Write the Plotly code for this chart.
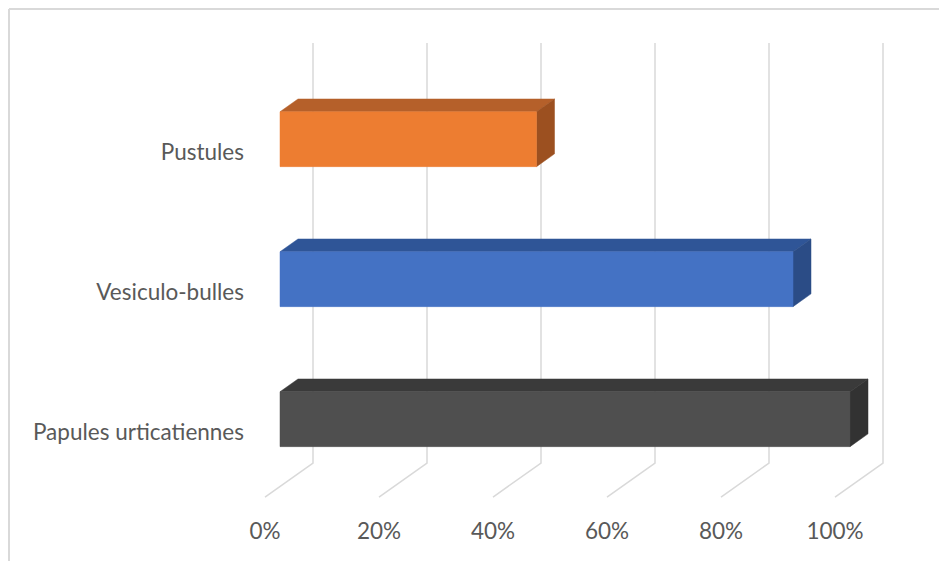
import plotly.graph_objects as go

# Data
categories = ["Papules urticatiennes", "Vesiculo-bulles", "Pustules"]
values = [100, 90, 45]  # percent
tick_values = [0, 20, 40, 60, 80, 100]
tick_labels = ["0%", "20%", "40%", "60%", "80%", "100%"]

front_colors = ["#4F4F4F", "#4472C4", "#ED7D31"]
top_colors = ["#3A3A3A", "#2F5597", "#B5602A"]
side_colors = ["#323232", "#2B4C86", "#9C5020"]

# Oblique projection of the 3D plot box: depth d in [0 (back wall), 1 (front edge of floor)]
DX = -8.42    # x shift (percent units) at full depth
DY = -0.243   # y shift (category units) at full depth
D0, D1 = 0.3125, 0.6875  # bar depth span
HALF = 0.196             # half bar thickness in category units
CAT_SHIFT = -0.02        # small downward offset of the category slots
FLOOR, CEIL = -0.5, 2.5


def proj(v, y, d):
    return v + DX * d, y + DY * d


fig = go.Figure()

# Back-wall gridlines plus floor diagonals
grid_x, grid_y = [], []
for t in tick_values:
    x0, y0 = proj(t, CEIL, 0)
    x1, y1 = proj(t, FLOOR, 0)
    x2, y2 = proj(t, FLOOR, 1)
    grid_x += [x0, x1, x2, None]
    grid_y += [y0, y1, y2, None]
fig.add_trace(go.Scatter(x=grid_x, y=grid_y, mode="lines",
                         line=dict(color="#D9D9D9", width=1.5),
                         hoverinfo="skip", showlegend=False))


def poly(pts, color):
    xs = [p[0] for p in pts] + [pts[0][0]]
    ys = [p[1] for p in pts] + [pts[0][1]]
    fig.add_trace(go.Scatter(x=xs, y=ys, mode="lines", fill="toself",
                             fillcolor=color, line=dict(color=color, width=0.5),
                             hoverinfo="skip", showlegend=False))


for i, (cat, v) in enumerate(zip(categories, values)):
    c = i + CAT_SHIFT
    lo, hi = c - HALF, c + HALF
    # top face
    poly([proj(0, hi, D1), proj(v, hi, D1), proj(v, hi, D0), proj(0, hi, D0)], top_colors[i])
    # side face
    poly([proj(v, lo, D1), proj(v, hi, D1), proj(v, hi, D0), proj(v, lo, D0)], side_colors[i])
    # front face
    poly([proj(0, lo, D1), proj(v, lo, D1), proj(v, hi, D1), proj(0, hi, D1)], front_colors[i])

W, H = 939, 561
ML, MR, MT, MB = 250, 39, 30, 46
PX_PER_PCT = 5.7
PX_PER_CAT = 140
x_left = (ML - 313) / PX_PER_PCT
x_right = (W - MR - 313) / PX_PER_PCT
y_top = (463 - MT) / PX_PER_CAT - 0.5
y_bottom = (463 - (H - MB)) / PX_PER_CAT - 0.5

font = dict(family="Lato", size=22.5, color="#595959")

fig.update_layout(
    width=W, height=H,
    margin=dict(l=ML, r=MR, t=MT, b=MB),
    paper_bgcolor="white", plot_bgcolor="white",
    font=font,
    xaxis=dict(range=[x_left, x_right], showgrid=False, zeroline=False,
               showline=False, ticks="",
               tickmode="array",
               tickvals=[t + DX for t in tick_values], ticktext=tick_labels,
               ticklabelstandoff=0),
    yaxis=dict(range=[y_bottom, y_top], showgrid=False, zeroline=False,
               showline=False, ticks="",
               tickmode="array",
               tickvals=[i + DY - 0.04 for i in range(len(categories))], ticktext=categories,
               ticklabelstandoff=5),
    shapes=[
        dict(type="line", xref="paper", yref="paper",
             x0=(9 - ML) / (W - ML - MR), x1=(W - ML) / (W - ML - MR) + 0.01,
             y0=(H - 9 - MB) / (H - MT - MB), y1=(H - 9 - MB) / (H - MT - MB),
             line=dict(color="#D9D9D9", width=2)),
        dict(type="line", xref="paper", yref="paper",
             x0=(9 - ML) / (W - ML - MR), x1=(9 - ML) / (W - ML - MR),
             y0=(H - 9 - MB) / (H - MT - MB), y1=-MB / (H - MT - MB) - 0.01,
             line=dict(color="#D9D9D9", width=2)),
    ],
)

fig.write_html("out.html")
